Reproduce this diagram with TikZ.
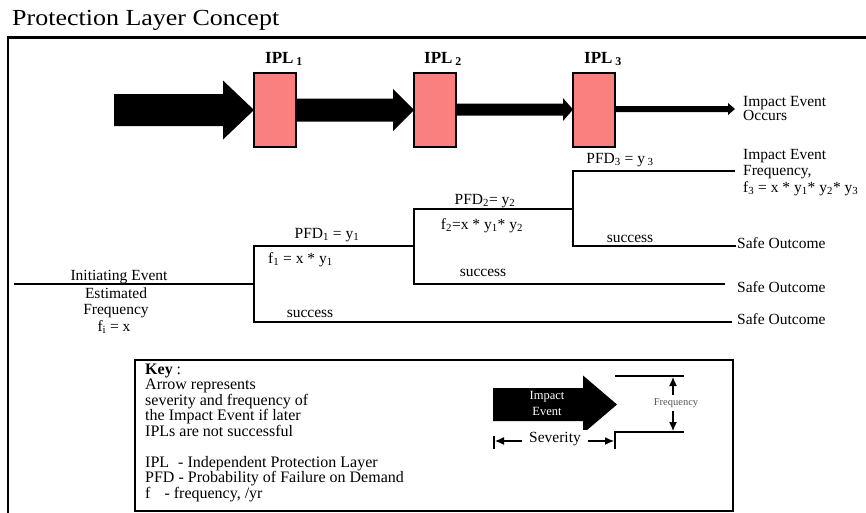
\documentclass[tikz,border=0pt]{standalone}
\usepackage{fontspec}
\setmainfont{Liberation Serif}
\newfontfamily\titlefont[FakeStretch=1.13]{Liberation Serif}
\usetikzlibrary{arrows.meta}
\definecolor{iplred}{RGB}{250,128,128}
\definecolor{freqgray}{RGB}{85,85,85}
\newcommand\sbs[1]{\textsubscript{#1}}
% block arrow: x-start, x-tip, y-centre, shaft half width, head half width, head length
\newcommand\blockarr[6]{%
  \fill (#1,{#3-#4}) -- ({#2-#6},{#3-#4}) -- ({#2-#6},{#3-#5}) -- (#2,#3)
        -- ({#2-#6},{#3+#5}) -- ({#2-#6},{#3+#4}) -- (#1,{#3+#4}) -- cycle;}
\begin{document}
\begin{tikzpicture}[x=1pt,y=-1pt,
  frame/.style={line width=2.2pt},
  tree/.style={line width=1.8pt},
  lbl/.style={anchor=base, inner sep=0pt, font=\fontsize{15.5}{15.5}\selectfont},
  lblw/.style={lbl, anchor=base west},
  keytxt/.style={anchor=base west, inner sep=0pt, font=\fontsize{16}{16}\selectfont},
  ipl/.style={draw, line width=1.3pt, fill=iplred, minimum width=42pt, minimum height=74pt, inner sep=0pt},
  ipllabel/.style={anchor=base west, inner sep=0pt, font=\fontsize{17}{17}\selectfont\bfseries},
  dimarrow/.style={line width=1.2pt, {Latex[length=9pt,width=8pt]}-{Latex[length=9pt,width=8pt]}}
]
\useasboundingbox (0,0) rectangle (866,512);
\clip (0,0) rectangle (866,512);

% title and frame
\node[anchor=base west, inner sep=0pt, font=\titlefont\fontsize{23}{23}\selectfont] (title) at (12,25) {Protection Layer Concept};
\draw[frame] (8,540) -- (8,37.5) -- (880,37.5);

% big arrows
\blockarr{114}{254}{110}{16}{29.5}{31}
\blockarr{296}{414}{110}{11.5}{21}{21}
\blockarr{456}{573}{109.5}{6}{11.5}{10}
\blockarr{615}{735}{109}{3}{6}{7}

% IPL boxes
\node[ipl] (ipl1) at (275,110) {};
\node[ipl] (ipl2) at (435,110) {};
\node[ipl] (ipl3) at (594,110) {};
\node[ipllabel] (l1) at (265,63) {IPL\,\sbs{1}};
\node[ipllabel] (l2) at (424,63) {IPL\,\sbs{2}};
\node[ipllabel] (l3) at (584,63) {IPL\,\sbs{3}};

\node[lblw] (occ1) at (743,106) {Impact Event};
\node[lblw] (occ2) at (743,120) {Occurs};

% event tree
\coordinate (ie) at (14,284);
\coordinate (n1) at (254,284);
\coordinate (n1u) at (254,246);
\coordinate (n1d) at (254,322);
\coordinate (n2) at (414,246);
\coordinate (n2u) at (414,209);
\coordinate (n2d) at (414,284);
\coordinate (n3) at (573,209);
\coordinate (n3u) at (573,171);
\coordinate (n3d) at (573,246);
\coordinate (e1) at (732,322);
\coordinate (e2) at (725,284);
\coordinate (e3) at (736,246);
\coordinate (e4) at (735,171);

\draw[tree] (ie) -- (n1);
\draw[tree] (e1) -- (n1d) -- (n1u) -- (n2);
\draw[tree] (e2) -- (n2d) -- (n2u) -- (n3);
\draw[tree] (e3) -- (n3d) -- (n3u) -- (e4);

% tree labels
\node[lbl] (ie1) at (119,280) {Initiating Event};
\node[lbl] (ie2) at (116,298) {Estimated};
\node[lbl] (ie3) at (116,314) {Frequency};
\node[lbl] (ie4) at (114,331) {f\sbs{i} = x};

\node[lbl] (pfd1) at (327,238) {PFD\sbs{1} = y\sbs{1}};
\node[lblw] (f1) at (268,263) {f\sbs{1} = x * y\sbs{1}};
\node[lbl] (s1) at (310,317) {success};

\node[lbl] (pfd2) at (485,204) {PFD\sbs{2}= y\sbs{2}};
\node[lbl] (f2) at (482,229) {f\sbs{2}=x * y\sbs{1}* y\sbs{2}};
\node[lbl] (s2) at (483,276) {success};

\node[lbl] (pfd3) at (620,163) {PFD\sbs{3} = y\,\sbs{3}};
\node[lbl] (s3) at (630,242) {success};

\node[lblw] (if1) at (743,159) {Impact Event};
\node[lblw] (if2) at (743,175) {Frequency,};
\node[lblw] (if3) at (743,192) {f\sbs{3} = x * y\sbs{1}* y\sbs{2}* y\sbs{3}};

\node[lblw] (so1) at (737,248) {Safe Outcome};
\node[lblw] (so2) at (737,292) {Safe Outcome};
\node[lblw] (so3) at (737,324) {Safe Outcome};

% key box
\draw[line width=2pt] (135,360) rectangle (733,511);
\node[keytxt] (k0) at (145,374) {\textbf{Key} :};
\node[keytxt] (k1) at (145,389.5) {Arrow represents};
\node[keytxt] (k2) at (145,405) {severity and frequency of};
\node[keytxt] (k3) at (145,420.5) {the Impact Event if later};
\node[keytxt] (k4) at (145,436) {IPLs are not successful};
\node[keytxt] (k5) at (145,467) {IPL\hspace{9pt}- Independent Protection Layer};
\node[keytxt] (k6) at (145,482.5) {PFD - Probability of Failure on Demand};
\node[keytxt] (k7) at (145,498) {f\hspace{14pt}- frequency, /yr};

% key arrow
\blockarr{493}{617}{404.5}{16.5}{29}{34}
\node[anchor=base, inner sep=0pt, text=white, font=\fontsize{12.5}{12.5}\selectfont] (ka1) at (547,399) {Impact};
\node[anchor=base, inner sep=0pt, text=white, font=\fontsize{12.5}{12.5}\selectfont] (ka2) at (547,415) {Event};

% frequency bracket
\coordinate (ft1) at (615,376);
\coordinate (ft2) at (684,376);
\coordinate (fb0) at (615,449);
\coordinate (fb1) at (615,432);
\coordinate (fb2) at (684,432);
\coordinate (sl1) at (494,436);
\coordinate (sl2) at (494,449);
\draw[line width=1.5pt] (ft1) -- (ft2);
\draw[line width=1.5pt] (fb0) -- (fb1) -- (fb2);
\draw[line width=1.5pt] (sl1) -- (sl2);
\coordinate (fa1) at (673,377);
\coordinate (fa2) at (673,431);
\draw[dimarrow] (fa1) -- (fa2);
\node[fill=white, inner xsep=1pt, inner ysep=3pt, text=freqgray, font=\fontsize{10.5}{10.5}\selectfont] (freq) at (676,403) {Frequency};
\coordinate (sa1) at (495,441);
\coordinate (sa2) at (614,441);
\draw[dimarrow] (sa1) -- (sa2);
\node[fill=white, inner xsep=7pt, inner ysep=2pt, font=\fontsize{15.5}{15.5}\selectfont] (sev) at (555,439) {Severity};
\end{tikzpicture}
\end{document}
